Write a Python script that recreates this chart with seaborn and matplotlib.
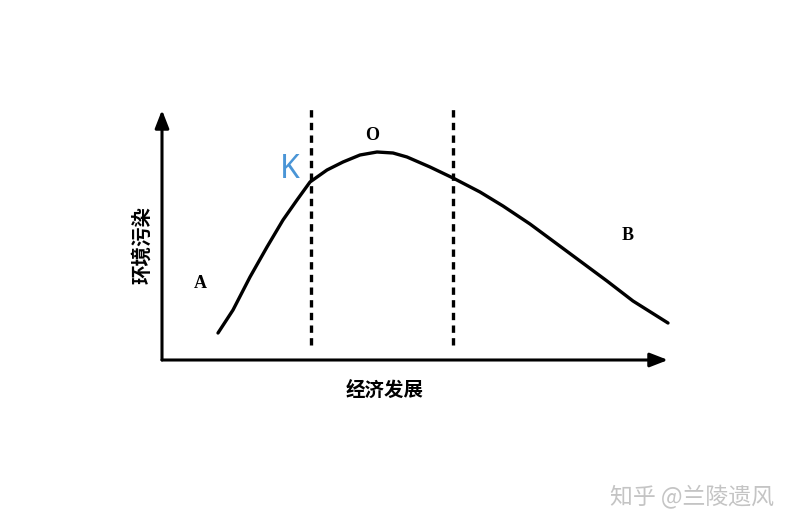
import matplotlib
matplotlib.use("Agg")
import matplotlib.pyplot as plt
import seaborn as sns
import pandas as pd

# curve (economic development vs. pollution, arbitrary units)
dev = [56, 71, 88, 105, 121, 135, 148, 165, 181, 198, 215, 231, 245, 268, 291,
       318, 341, 368, 391, 418, 445, 471, 506]
pollution = [27, 50, 83, 113, 140, 160, 178, 190, 198, 205, 208, 207, 203, 193, 182,
             168, 154, 136, 119, 99, 79, 59, 37]

# stage boundaries (dashed lines)
bounds = [149, 291]
bound_top = 255
bound_bottom = 15

x_label = "经济发展"
y_label = "环境污染"
watermark = "知乎 @兰陵遗风"

sns.set_theme(style="white")
plt.rcParams["font.family"] = ["Noto Sans CJK SC", "DejaVu Sans"]

fig = plt.figure(figsize=(8, 5.29), dpi=100)
ax = fig.add_axes([0, 0, 1, 1])
ax.set_xlim(-162, 638)
ax.set_ylim(-169, 360)
ax.axis("off")

df = pd.DataFrame({"dev": dev, "pollution": pollution})
sns.lineplot(data=df, x="dev", y="pollution", ax=ax, color="black", linewidth=2.4,
             sort=False, solid_capstyle="round", solid_joinstyle="round")

for b in bounds:
    ax.plot([b, b], [bound_bottom, bound_top], color="black", linewidth=2.4,
            linestyle=(0, (2.2, 1.6)))

# axes with arrows
arrow = dict(arrowstyle="-|>,head_length=0.9,head_width=0.35", color="black",
             linewidth=2.2, shrinkA=0, shrinkB=0)
ax.annotate("", xy=(0, 250), xytext=(0, 0), arrowprops=arrow)
ax.annotate("", xy=(506, 0), xytext=(0, 0), arrowprops=arrow)

serif = dict(family="Liberation Serif", fontweight="bold", fontsize=13, color="black",
             ha="center", va="center")
ax.text(38, 77, "A", **serif)
ax.text(210, 225, "O", **serif)
ax.text(466, 125, "B", **serif)
ax.text(128, 190, "K", fontsize=23, color="#4a95d6", ha="center", va="center",
        family=["Noto Sans", "DejaVu Sans"])

ax.text(223, -30, x_label, fontsize=14, fontweight="bold", color="black",
        ha="center", va="center")
ax.text(-20, 115, y_label, fontsize=14, fontweight="bold", color="black",
        ha="center", va="center", rotation=90)

ax.text(530, -137, watermark, fontsize=16.5, color="#c4c4c4", ha="center", va="center")

fig.savefig("out.png", dpi=100)
